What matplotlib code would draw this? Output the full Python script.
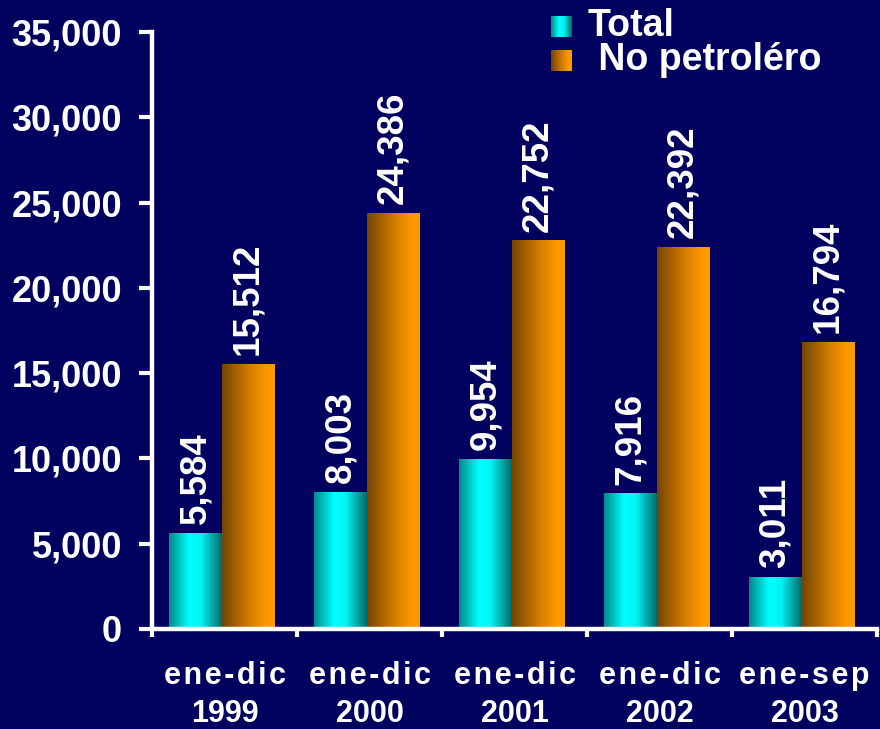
import numpy as np
import matplotlib
matplotlib.use("Agg")
import matplotlib.pyplot as plt
from matplotlib.colors import LinearSegmentedColormap
from matplotlib.ticker import FuncFormatter, MultipleLocator

periods = ["ene-dic\n1999", "ene-dic\n2000", "ene-dic\n2001", "ene-dic\n2002", "ene-sep\n2003"]
total = [5584, 8003, 9954, 7916, 3011]
no_petrolero = [15512, 24386, 22752, 22392, 16794]
series_names = ["Total", " No petroléro"]

bg = "#00005f"
plt.rcParams["font.family"] = ["Liberation Sans", "DejaVu Sans"]
plt.rcParams["font.weight"] = "bold"


def spaced(label):
    # open up the letters of the first line a little
    first, second = label.split("\n")
    return "\u200a".join(first) + "\n" + second


# shaded fills for the two series (left -> right across each bar)
cyan_cm = LinearSegmentedColormap.from_list(
    "cyan_shade", [(0.0, "#008a8a"), (0.38, "#00ffff"), (0.6, "#00f4f4"), (1.0, "#006a6a")])
orange_cm = LinearSegmentedColormap.from_list(
    "orange_shade", [(0.0, "#744400"), (0.55, "#d88000"), (0.85, "#ff9900"), (1.0, "#ff9a00")])
grad = np.linspace(0, 1, 256).reshape(1, -1)

fig = plt.figure(figsize=(8.8, 7.29), dpi=100, facecolor=bg)
ax = fig.add_axes([152 / 880, 1 - 629 / 729, 725 / 880, 597 / 729])
ax.set_facecolor(bg)

x = np.arange(len(periods))
w = 0.36
shift = -0.02
bars_t = ax.bar(x + shift - w / 2, total, w, color="none", linewidth=0)
bars_n = ax.bar(x + shift + w / 2, no_petrolero, w, color="none", linewidth=0)

for bars, cm, vals in [(bars_t, cyan_cm, total), (bars_n, orange_cm, no_petrolero)]:
    for rect, v in zip(bars, vals):
        x0, h, bw = rect.get_x(), rect.get_height(), rect.get_width()
        ax.imshow(grad, extent=[x0, x0 + bw, 0, h], aspect="auto", cmap=cm,
                  interpolation="bicubic", zorder=2)
        ax.text(x0 + bw / 2, h + 550, f"{v:,}", rotation=90, ha="center", va="bottom",
                color="white", fontsize=26.5, fontweight="bold", zorder=3)

ax.set_xlim(-0.5, len(periods) - 0.5)
ax.set_ylim(0, 35000)

for side in ["top", "right"]:
    ax.spines[side].set_visible(False)
for side in ["left", "bottom"]:
    ax.spines[side].set_color("white")
    ax.spines[side].set_linewidth(3.2)
    ax.spines[side].set_zorder(4)

ax.yaxis.set_major_locator(MultipleLocator(5000))
ax.yaxis.set_major_formatter(FuncFormatter(lambda v, p: f"{int(v):,}"))
ax.tick_params(axis="y", colors="white", length=9.5, width=3, pad=12, labelsize=26)

ax.set_xticks(x)
ax.set_xticklabels([spaced(p) for p in periods], linespacing=1.36)
ax.set_xticks(np.arange(len(periods) + 1) - 0.5, minor=True)
ax.tick_params(axis="x", which="major", length=0, pad=23, labelsize=22, colors="white")
ax.tick_params(axis="x", which="minor", length=6, width=3, color="white")
for lab in ax.get_xticklabels() + ax.get_yticklabels():
    lab.set_fontweight("bold")

# legend drawn by hand so the keys keep the shaded fill
for i, (name, cm) in enumerate(zip(series_names, [cyan_cm, orange_cm])):
    top = 16 + 34 * i
    key = fig.add_axes([551 / 880, 1 - (top + 21) / 729, 21 / 880, 21 / 729])
    key.imshow(grad, aspect="auto", cmap=cm, interpolation="bicubic")
    key.axis("off")
    fig.text(588 / 880, 1 - (top + 10) / 729, name, color="white", fontsize=27,
             fontweight="bold", ha="left", va="center")

fig.savefig("out.png", dpi=100, facecolor=bg)
